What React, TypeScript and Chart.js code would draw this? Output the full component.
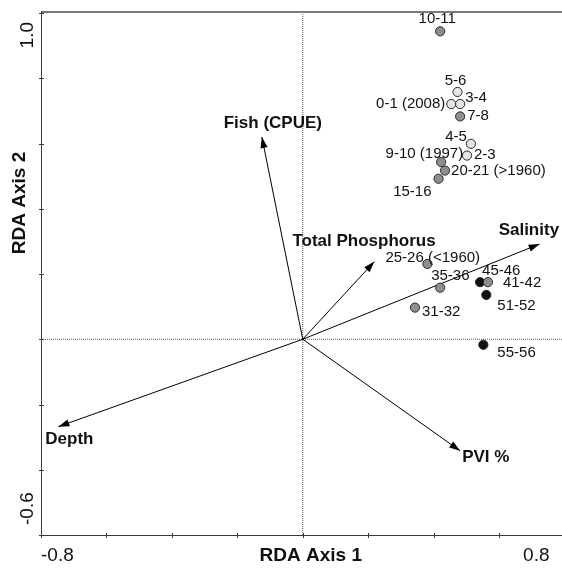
import React, { useEffect, useRef } from 'react';
import { Chart, registerables } from 'chart.js';

Chart.register(...registerables);

// ---- Sample scores (sites) ----
const SAMPLES = [
  '10-11', '5-6', '0-1 (2008)', '3-4', '7-8', '4-5', '2-3', '9-10 (1997)',
  '20-21 (>1960)', '15-16', '25-26 (<1960)', '35-36', '45-46', '41-42',
  '51-52', '31-32', '55-56',
];
const AXIS1 = [
  0.420, 0.473, 0.454, 0.481, 0.481, 0.514, 0.502, 0.423,
  0.435, 0.415, 0.381, 0.420, 0.542, 0.566, 0.561, 0.343, 0.552,
];
const AXIS2 = [
  0.944, 0.758, 0.721, 0.721, 0.683, 0.599, 0.563, 0.543,
  0.517, 0.492, 0.231, 0.158, 0.175, 0.175, 0.136, 0.097, -0.017,
];
const SAMPLE_GROUP = [
  'mid', 'recent', 'recent', 'recent', 'mid', 'recent', 'recent', 'mid',
  'mid', 'mid', 'mid', 'mid', 'deep', 'mid', 'deep', 'mid', 'deep',
];

// ---- Environmental variables (biplot arrows) ----
const VARIABLES = ['Fish (CPUE)', 'Total Phosphorus', 'Salinity', 'Depth', 'PVI %'];
const VAR_AXIS1 = [-0.125, 0.219, 0.724, -0.747, 0.481];
const VAR_AXIS2 = [0.620, 0.238, 0.292, -0.268, -0.342];

// ---- Axes ----
const X_MIN = -0.8;
const X_MAX = 0.8;
const Y_MIN = -0.6;
const Y_MAX = 1.0;
const X_TICKS = [-0.8, -0.6, -0.4, -0.2, 0, 0.2, 0.4, 0.6, 0.8];
const Y_TICKS = [-0.6, -0.4, -0.2, 0, 0.2, 0.4, 0.6, 0.8, 1.0];
const X_TICK_LABELS = ['-0.8', '0.8'];
const Y_TICK_LABELS = ['-0.6', '1.0'];
const X_TITLE = 'RDA Axis 1';
const Y_TITLE = 'RDA Axis 2';

// ---- Styling (kept apart from data) ----
const GROUP_COLORS: Record<string, string> = {
  recent: '#e4e4e4',
  mid: '#8e8e8e',
  deep: '#111111',
};
// label placement relative to point: dx, dy (px), alignment
const SAMPLE_LABEL_PLACE: [number, number, CanvasTextAlign][] = [
  [-3, -12, 'center'],
  [-2, -11, 'center'],
  [-6, 0, 'right'],
  [5, -6, 'left'],
  [7, -1, 'left'],
  [-4, -7, 'right'],
  [7, -1, 'left'],
  [22, -8, 'right'],
  [6, 0, 'left'],
  [-7, 13, 'right'],
  [-42, -6, 'left'],
  [-9, -12, 'left'],
  [2, -11, 'left'],
  [15, 1, 'left'],
  [11, 11, 'left'],
  [7, 4, 'left'],
  [14, 8, 'left'],
];
const VAR_LABEL_PLACE: [number, number, CanvasTextAlign][] = [
  [11, -14, 'center'],
  [-82, -20, 'left'],
  [-41, -14, 'left'],
  [-13, 13, 'left'],
  [2, 6, 'left'],
];

const FONT = '"Liberation Sans", Arial, Helvetica, sans-serif';

const rdaPlugin = {
  id: 'rdaDecor',
  beforeDatasetsDraw(chart: any) {
    const { ctx, chartArea: a, scales } = chart;
    const xs = scales.x;
    const ys = scales.y;
    ctx.save();
    // top frame
    ctx.strokeStyle = '#7a7a7a';
    ctx.lineWidth = 2;
    ctx.beginPath();
    ctx.moveTo(a.left, a.top - 1);
    ctx.lineTo(a.right, a.top - 1);
    ctx.stroke();
    // left and bottom axes
    ctx.strokeStyle = '#3a3a3a';
    ctx.lineWidth = 1;
    ctx.beginPath();
    ctx.moveTo(a.left + 0.5, a.top - 2);
    ctx.lineTo(a.left + 0.5, a.bottom + 0.5);
    ctx.lineTo(a.right, a.bottom + 0.5);
    ctx.stroke();
    // ticks crossing the axes
    ctx.beginPath();
    X_TICKS.forEach((v) => {
      const px = Math.round(xs.getPixelForValue(v)) + 0.5;
      ctx.moveTo(px, a.bottom - 2);
      ctx.lineTo(px, a.bottom + 3);
    });
    Y_TICKS.forEach((v) => {
      const py = Math.round(ys.getPixelForValue(v)) + 0.5;
      ctx.moveTo(a.left - 2, py);
      ctx.lineTo(a.left + 3, py);
    });
    ctx.stroke();

    // tick labels
    ctx.fillStyle = '#111';
    ctx.font = `19px ${FONT}`;
    ctx.textBaseline = 'middle';
    ctx.textAlign = 'left';
    ctx.fillText(X_TICK_LABELS[0], xs.getPixelForValue(X_MIN), a.bottom + 21);
    ctx.textAlign = 'right';
    ctx.fillText(X_TICK_LABELS[1], xs.getPixelForValue(X_MAX) - 15, a.bottom + 21);

    ctx.save();
    ctx.translate(27.5, ys.getPixelForValue(Y_MIN) - 10);
    ctx.rotate(-Math.PI / 2);
    ctx.textAlign = 'left';
    ctx.fillText(Y_TICK_LABELS[0], 0, 0);
    ctx.restore();
    ctx.save();
    ctx.translate(27.5, ys.getPixelForValue(Y_MAX) + 9);
    ctx.rotate(-Math.PI / 2);
    ctx.textAlign = 'right';
    ctx.fillText(Y_TICK_LABELS[1], 0, 0);
    ctx.restore();

    // axis titles
    ctx.font = `bold 19px ${FONT}`;
    ctx.textAlign = 'center';
    ctx.fillText(X_TITLE, (a.left + a.right) / 2 + 8, a.bottom + 21);
    ctx.save();
    ctx.translate(20, 203);
    ctx.rotate(-Math.PI / 2);
    ctx.fillText(Y_TITLE, 0, 0);
    ctx.restore();
    ctx.restore();
  },
  afterDatasetsDraw(chart: any) {
    const { ctx, scales } = chart;
    const xs = scales.x;
    const ys = scales.y;
    const ox = xs.getPixelForValue(0);
    const oy = ys.getPixelForValue(0);
    ctx.save();
    // arrowheads + variable labels
    VARIABLES.forEach((name, i) => {
      const tx = xs.getPixelForValue(VAR_AXIS1[i]);
      const ty = ys.getPixelForValue(VAR_AXIS2[i]);
      const ang = Math.atan2(ty - oy, tx - ox);
      const len = 11;
      const hw = 3.6;
      const bx = tx - len * Math.cos(ang);
      const by = ty - len * Math.sin(ang);
      ctx.fillStyle = '#000';
      ctx.beginPath();
      ctx.moveTo(tx, ty);
      ctx.lineTo(bx + hw * Math.sin(ang), by - hw * Math.cos(ang));
      ctx.lineTo(bx - hw * Math.sin(ang), by + hw * Math.cos(ang));
      ctx.closePath();
      ctx.fill();
      const [dx, dy, al] = VAR_LABEL_PLACE[i];
      ctx.font = `bold 17px ${FONT}`;
      ctx.textAlign = al;
      ctx.textBaseline = 'middle';
      ctx.fillStyle = '#111';
      ctx.fillText(name, tx + dx, ty + dy);
    });
    // sample labels
    ctx.font = `15px ${FONT}`;
    ctx.textBaseline = 'middle';
    ctx.fillStyle = '#111';
    SAMPLES.forEach((name, i) => {
      const px = xs.getPixelForValue(AXIS1[i]);
      const py = ys.getPixelForValue(AXIS2[i]);
      const [dx, dy, al] = SAMPLE_LABEL_PLACE[i];
      ctx.textAlign = al;
      ctx.fillText(name, px + dx, py + dy);
    });
    ctx.restore();
  },
};

export default function App() {
  const ref = useRef<HTMLCanvasElement | null>(null);

  useEffect(() => {
    if (!ref.current) return;
    const points = AXIS1.map((x, i) => ({ x, y: AXIS2[i] }));
    const vectorSets = VARIABLES.map((name, i) => ({
      label: name,
      data: [
        { x: 0, y: 0 },
        { x: VAR_AXIS1[i], y: VAR_AXIS2[i] },
      ],
      showLine: true,
      borderColor: '#000',
      borderWidth: 1,
      pointRadius: 0,
      order: 2,
    }));
    const chart = new Chart(ref.current, {
      type: 'scatter',
      data: {
        datasets: [
          {
            label: 'samples',
            data: points,
            pointRadius: 4.6,
            pointBorderWidth: 1,
            pointBorderColor: '#2a2a2a',
            pointBackgroundColor: SAMPLE_GROUP.map((g) => GROUP_COLORS[g]),
            showLine: false,
            order: 0,
          },
          ...vectorSets,
          {
            label: 'x0',
            data: [
              { x: 0, y: Y_MIN },
              { x: 0, y: Y_MAX },
            ],
            showLine: true,
            borderColor: '#555',
            borderWidth: 1,
            borderDash: [1, 1],
            pointRadius: 0,
            order: 3,
          },
          {
            label: 'y0',
            data: [
              { x: X_MIN, y: 0 },
              { x: X_MAX, y: 0 },
            ],
            showLine: true,
            borderColor: '#555',
            borderWidth: 1,
            borderDash: [1, 1],
            pointRadius: 0,
            order: 3,
          },
        ] as any,
      },
      options: {
        animation: false,
        responsive: false,
        events: [],
        layout: { padding: { left: 41, top: 13, right: 15.5, bottom: 33 } },
        plugins: { legend: { display: false }, tooltip: { enabled: false } },
        scales: {
          x: { type: 'linear', min: X_MIN, max: X_MAX, display: false },
          y: { type: 'linear', min: Y_MIN, max: Y_MAX, display: false },
        },
      },
      plugins: [rdaPlugin],
    });
    return () => chart.destroy();
  }, []);

  return (
    <div
      style={{
        position: 'fixed',
        left: 0,
        top: 0,
        width: 562,
        height: 568,
        overflow: 'hidden',
        background: '#fff',
      }}
    >
      <canvas ref={ref} width={580} height={568} style={{ display: 'block' }} />
    </div>
  );
}
